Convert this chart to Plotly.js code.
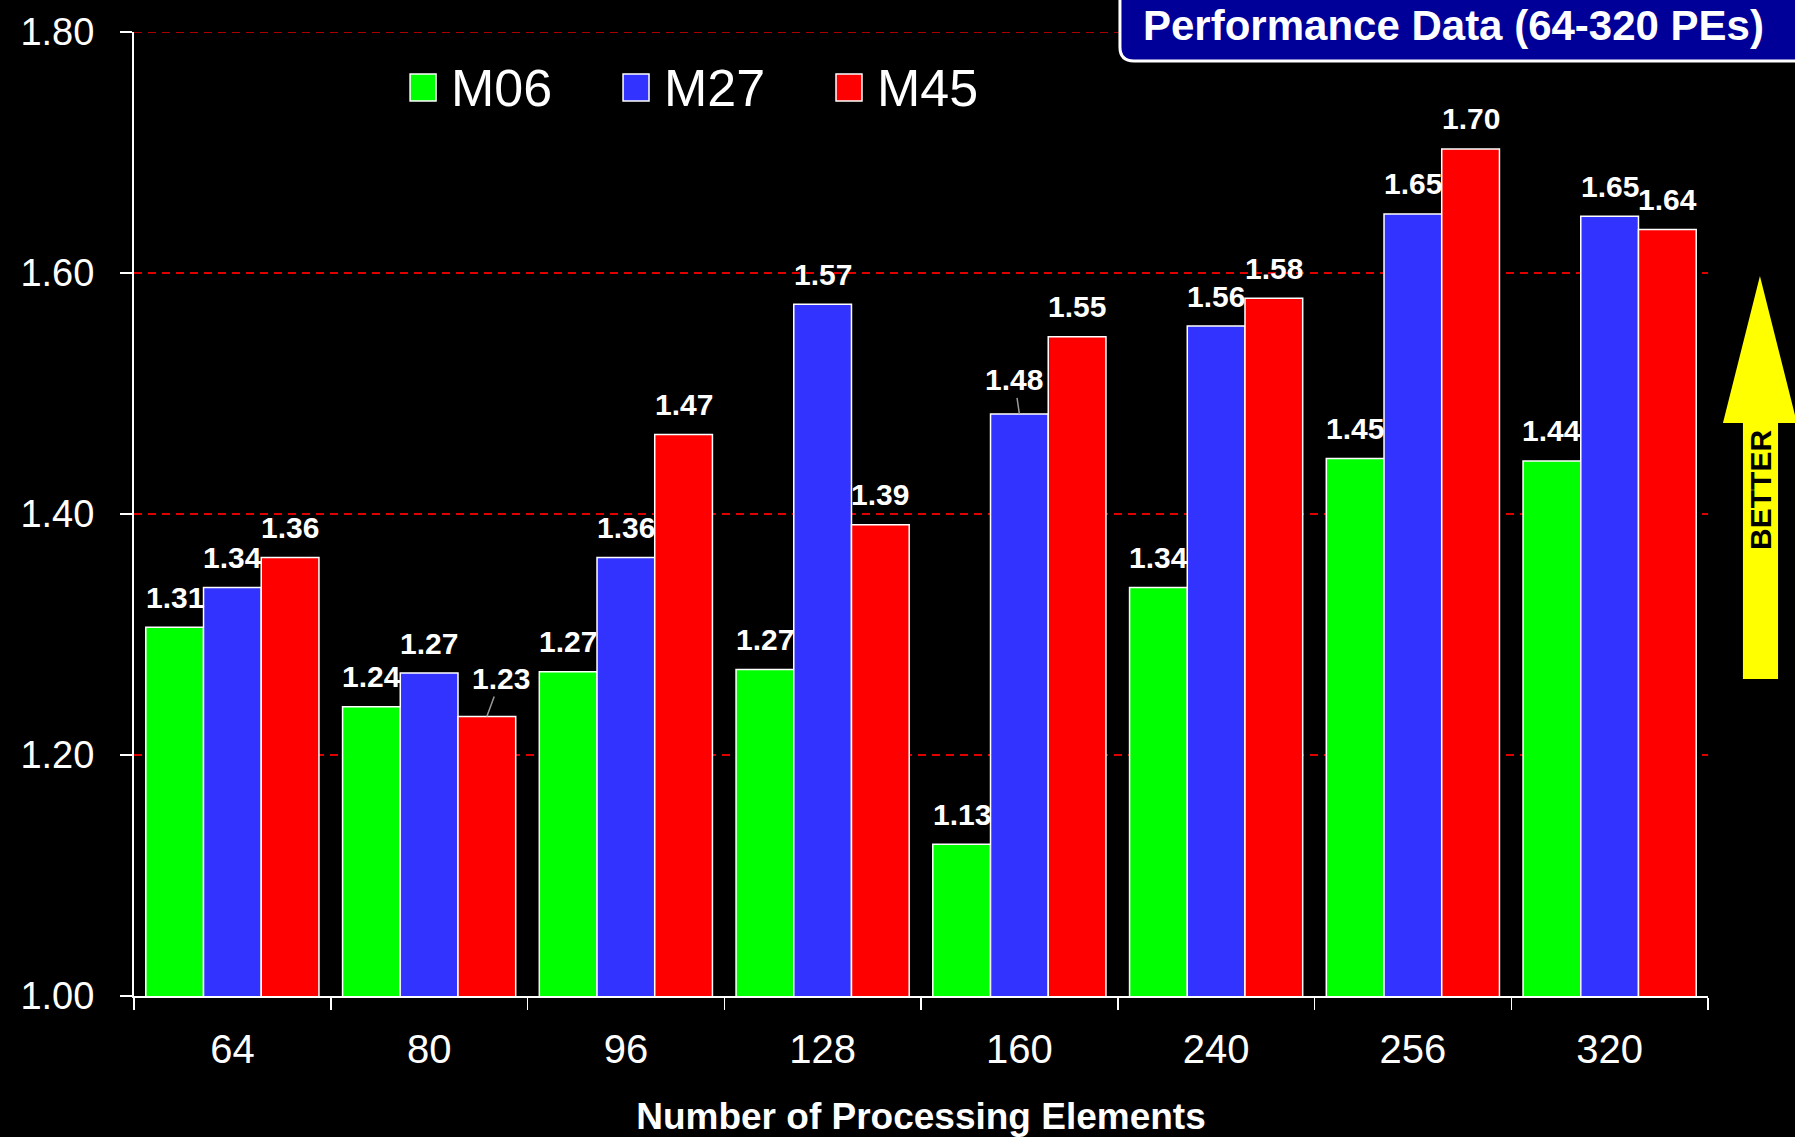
<!DOCTYPE html>
<html>
<head>
<meta charset="utf-8">
<script src="https://cdn.plot.ly/plotly-3.0.1.min.js"></script>
<style>
html,body{margin:0;padding:0;background:#000;}
#chart{width:1795px;height:1137px;}
</style>
</head>
<body>
<div id="chart"></div>
<script>
// ---- data ----
const categories = ["64", "80", "96", "128", "160", "240", "256", "320"];
const seriesNames = ["M06", "M27", "M45"];
const m06 = [1.306, 1.240, 1.269, 1.271, 1.126, 1.339, 1.446, 1.444];
const m27 = [1.339, 1.268, 1.364, 1.574, 1.483, 1.556, 1.649, 1.647];
const m45 = [1.364, 1.232, 1.466, 1.391, 1.547, 1.579, 1.703, 1.636];
const yTicks = [1.00, 1.20, 1.40, 1.60, 1.80];
const chartTitle = "Performance Data (64-320 PEs)";
const xTitle = "Number of Processing Elements";
const arrowLabel = "BETTER";

// ---- style ----
const colors = ["#00ff00", "#3333ff", "#ff0000"];
const FONT = "Liberation Sans, Arial, Helvetica, sans-serif";
const gridColor = "#e00000";
const bargap = 0.12;
const barW = (1 - bargap) / 3;
// labels drawn with leader lines: [seriesIndex, categoryIndex, ax, ay]
const leaderLabels = [[2, 1, 14, -38], [1, 4, -5, -34]];

const allSeries = [m06, m27, m45];
const traces = allSeries.map((vals, s) => ({
  type: "bar",
  name: seriesNames[s],
  x: categories,
  y: vals,
  marker: {color: colors[s], line: {color: "#ffffff", width: 1.5}},
  showlegend: false,
  hoverinfo: "x+y+name"
}));

const annotations = [];
allSeries.forEach((vals, s) => {
  vals.forEach((v, i) => {
    const lead = leaderLabels.find(l => l[0] === s && l[1] === i);
    const base = {
      x: i + (s - 1) * barW, y: v, xref: "x", yref: "y",
      text: "<b>" + v.toFixed(2) + "</b>",
      font: {family: FONT, size: 30, color: "#ffffff"}
    };
    if (lead) {
      annotations.push(Object.assign(base, {
        showarrow: true, arrowhead: 0, arrowwidth: 1.5, arrowcolor: "#9a9a9a",
        ax: lead[2], ay: lead[3], standoff: 0
      }));
    } else {
      annotations.push(Object.assign(base, {showarrow: false, yanchor: "middle", yshift: 30}));
    }
  });
});

const shapes = [];
// top gridline (at the edge of the range)
shapes.push({type: "line", xref: "paper", yref: "y", x0: 0, x1: 1,
  y0: yTicks[yTicks.length - 1], y1: yTicks[yTicks.length - 1],
  line: {color: gridColor, width: 1.5, dash: "8px,6px"}, layer: "below"});

// legend (manual, large squares)
seriesNames.forEach((n, s) => {
  const x0 = 0.1754 + s * 0.1353;
  shapes.push({type: "rect", xref: "paper", yref: "paper",
    x0: x0, x1: x0 + 0.0165, y0: 0.9284, y1: 0.9564,
    fillcolor: colors[s], line: {color: "#ffffff", width: 1.5}});
  annotations.push({xref: "paper", yref: "paper", x: x0 + 0.0247, y: 0.9423,
    xanchor: "left", yanchor: "middle", showarrow: false, text: n,
    font: {family: FONT, size: 52, color: "#ffffff"}});
});

// title box
shapes.push({type: "path", xref: "paper", yref: "paper",
  path: "M 0.6264,1.0436 L 0.6264,0.9844 Q 0.6264,0.9699 0.6353,0.9699 L 1.0648,0.9699 L 1.0648,1.0436 Z",
  fillcolor: "#000099", line: {color: "#ffffff", width: 3}});
annotations.push({xref: "paper", yref: "paper", x: 0.838, y: 1.0068,
  xanchor: "center", yanchor: "middle", showarrow: false,
  text: "<b>" + chartTitle + "</b>",
  font: {family: FONT, size: 42, color: "#ffffff"}});

// BETTER arrow
shapes.push({type: "path", xref: "paper", yref: "paper",
  path: "M 1.0222,0.3288 L 1.0222,0.5944 L 1.0095,0.5944 L 1.0330,0.7469 L 1.0565,0.5944 L 1.0445,0.5944 L 1.0445,0.3288 Z",
  fillcolor: "#ffff00", line: {width: 0}});
annotations.push({xref: "paper", yref: "paper", x: 1.0330, y: (996 - 490) / 964,
  xanchor: "center", yanchor: "middle", showarrow: false, textangle: -90,
  text: "<b>" + arrowLabel + "</b>",
  font: {family: FONT, size: 30, color: "#000000"}});

const layout = {
  width: 1795, height: 1137,
  paper_bgcolor: "#000000", plot_bgcolor: "#000000",
  margin: {l: 134, r: 87, t: 32, b: 141, pad: 0},
  barmode: "group", bargap: bargap, bargroupgap: 0,
  showlegend: false,
  font: {family: FONT, color: "#ffffff"},
  xaxis: {
    type: "category",
    showline: true, linecolor: "#ffffff", linewidth: 2,
    ticks: "outside", tickson: "boundaries", ticklen: 12, tickwidth: 1.5, tickcolor: "#ffffff",
    tickfont: {family: FONT, size: 40, color: "#ffffff"},
    ticklabelstandoff: 17,
    showgrid: false, zeroline: false,
    title: {text: "<b>" + xTitle + "</b>", font: {family: FONT, size: 37, color: "#ffffff"}, standoff: 34}
  },
  yaxis: {
    range: [1.0, 1.8], tickvals: yTicks, tickformat: ".2f",
    showline: true, linecolor: "#ffffff", linewidth: 2,
    ticks: "outside", ticklen: 12, tickwidth: 1.5, tickcolor: "#ffffff",
    tickfont: {family: FONT, size: 38, color: "#ffffff"},
    ticklabelstandoff: 18,
    showgrid: true, gridcolor: gridColor, gridwidth: 1.5, griddash: "8px,6px",
    zeroline: false
  },
  shapes: shapes,
  annotations: annotations
};

Plotly.newPlot("chart", traces, layout, {displayModeBar: false, staticPlot: true});
</script>
</body>
</html>
